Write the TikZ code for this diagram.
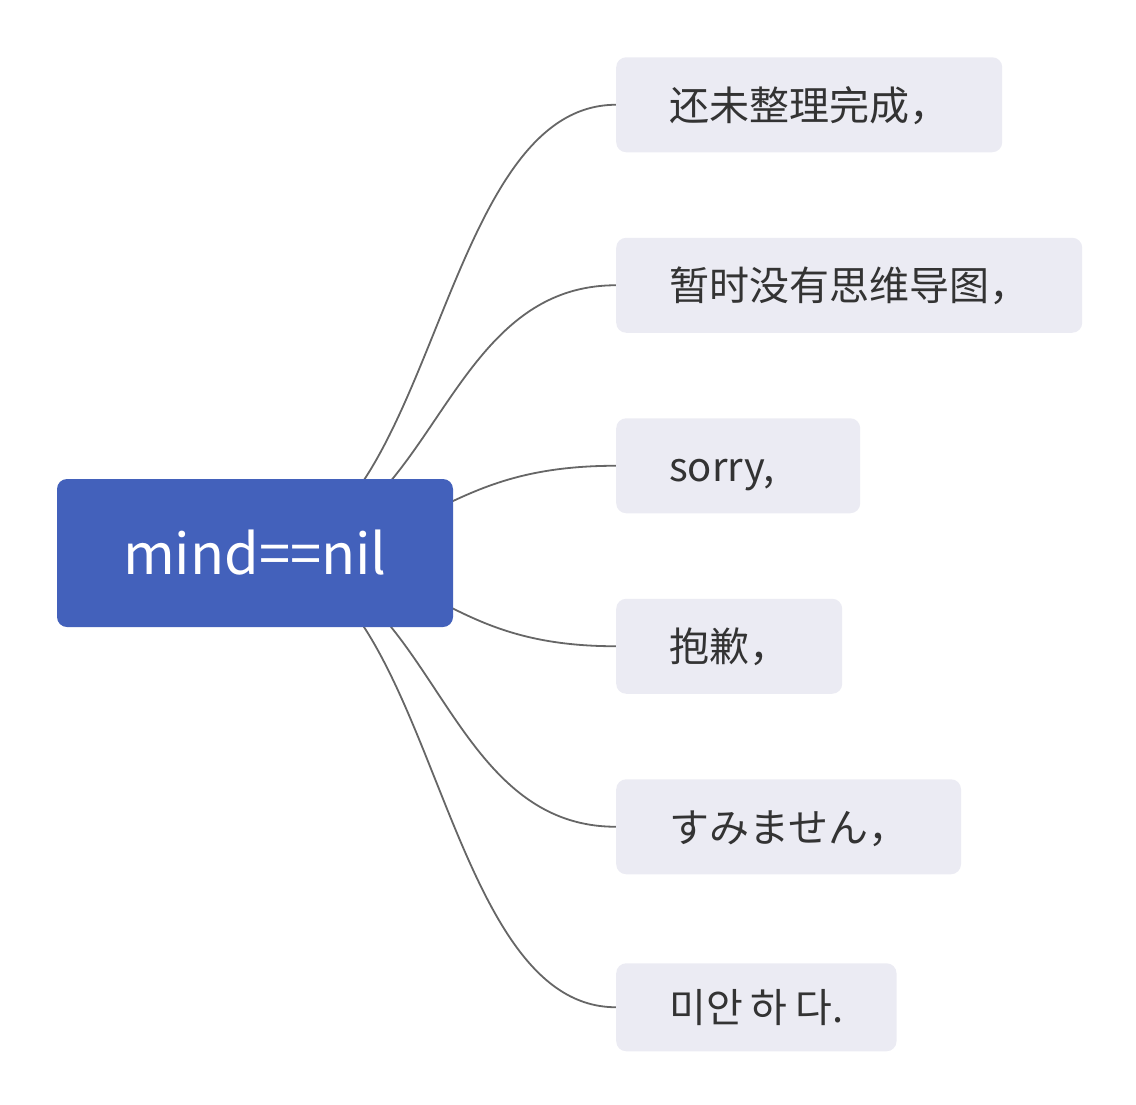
\documentclass[tikz,border=0pt]{standalone}
\usepackage{fontspec}
\setmainfont{Noto Sans CJK SC}
\usetikzlibrary{backgrounds}
\definecolor{mindblue}{HTML}{4361BB}
\definecolor{leafgray}{HTML}{EBEBF3}
\definecolor{leaftext}{HTML}{333333}
\definecolor{linkgray}{HTML}{666666}
\tikzset{
  mind/.style={
    fill=mindblue,
    text=white,
    rounded corners=10pt,
    minimum width=396pt,
    minimum height=148pt,
    font=\fontsize{56}{64}\selectfont,
    text height=47pt,
    text depth=5pt
  },
  leaf/.style={
    fill=leafgray,
    text=leaftext,
    rounded corners=10pt,
    anchor=west,
    yshift=-3pt,
    inner xsep=53pt,
    minimum height=95pt,
    font=\fontsize{40}{48}\selectfont,
    text height=34pt,
    text depth=3pt
  },
  link/.style={
    draw=linkgray,
    line width=1.8pt
  }
}

\begin{document}
\begin{tikzpicture}[x=1pt, y=-1pt,
    grow'=east, level distance=361pt, sibling distance=180.5pt,
    edge from parent/.style={draw=none}]
  \useasboundingbox (0,0) rectangle (1136,1104);
  \node[mind] (mind) at (255,553) {mind==nil}
    child { node[leaf] (unfinished) {还未整理完成，} }
    child { node[leaf] (nomap) {暂时没有思维导图，} }
    child { node[leaf, text width=138pt] (sorry) {sorry,} }
    child { node[leaf] (baoqian) {抱歉，} }
    child { node[leaf] (sumimasen) {すみません，} }
    child { node[leaf, minimum height=88pt] (mianhada) {\spaceskip=0.2em 미안 하 다.} };
  % curved links behind the boxes
  \begin{scope}[on background layer]
    \foreach \leaf in {unfinished, nomap, sorry, baoqian, sumimasen, mianhada}
      \draw[link] (mind.center) .. controls +(180,0) and +(-180,0) .. (\leaf.west);
  \end{scope}
\end{tikzpicture}
\end{document}
